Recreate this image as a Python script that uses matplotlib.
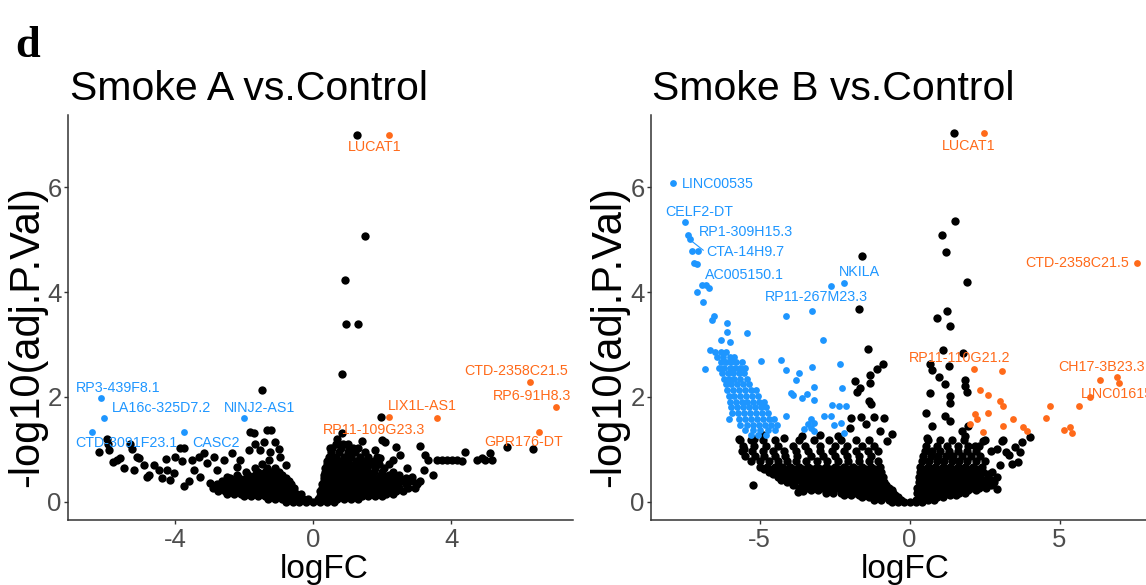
import matplotlib
matplotlib.use("Agg")
import matplotlib.pyplot as plt

plt.rcParams["font.family"] = ["Liberation Sans", "DejaVu Sans"]
plt.rcParams["axes.unicode_minus"] = False

BLUE = "#1E96FF"
ORANGE = "#FF6A1A"
GREY = "#4D4D4D"

# ---------------- Smoke A vs. Control ----------------
# dense core of non-significant genes, read row by row (y level -> logFC values)
a_core_y = [0.0, 0.05, 0.10, 0.15, 0.21, 0.27, 0.33, 0.39, 0.45, 0.51, 0.57, 0.64, 0.71,
            0.78, 0.86, 0.94, 1.02, 1.10]
a_core_x = [
    [-0.8, -0.6, -0.4, -0.2, 0.0, 0.2, 0.4, 0.6],
    [-1.3, -1.1, -0.9, -0.7, -0.5, -0.3, -0.15, 0.15, 0.3, 0.5, 0.7, 0.9, 1.1, 1.3],
    [-2.0, -1.8, -1.6, -1.4, -1.2, -1.0, -0.8, -0.6, -0.4, 0.2, 0.4, 0.6, 0.8, 1.0, 1.2, 1.4,
     1.6, 1.8, 2.0],
    [-2.5, -2.3, -2.1, -1.9, -1.7, -1.5, -1.3, -1.1, -0.9, -0.7, -0.5, -0.35, 0.25, 0.4, 0.55,
     0.7, 0.9, 1.1, 1.3, 1.5, 1.7, 1.9, 2.1, 2.3],
    [-2.75, -2.55, -2.35, -2.15, -1.95, -1.75, -1.55, -1.35, -1.15, -0.95, -0.75, -0.55, 0.2,
     0.35, 0.5, 0.65, 0.8, 1.0, 1.2, 1.4, 1.6, 1.8, 2.0, 2.2, 2.4, 2.6],
    [-2.9, -2.7, -2.5, -2.3, -2.1, -1.9, -1.7, -1.5, -1.3, -1.1, -0.9, -0.7, -0.55, 0.25, 0.4,
     0.55, 0.7, 0.9, 1.1, 1.3, 1.5, 1.7, 1.9, 2.1, 2.3, 2.5, 2.75, 2.95],
    [-2.8, -2.6, -2.4, -2.2, -2.0, -1.8, -1.6, -1.4, -1.2, -1.0, -0.8, -0.65, 0.25, 0.4, 0.6,
     0.8, 1.0, 1.2, 1.4, 1.6, 1.8, 2.0, 2.2, 2.45, 2.7, 3.0],
    [-2.65, -2.45, -2.25, -2.05, -1.85, -1.65, -1.45, -1.25, -1.05, -0.85, -0.7, 0.3, 0.45, 0.65,
     0.85, 1.05, 1.25, 1.45, 1.65, 1.85, 2.05, 2.3, 2.55, 2.85, 3.1],
    [-2.4, -2.15, -1.95, -1.75, -1.55, -1.35, -1.15, -0.95, -0.8, 0.3, 0.5, 0.7, 0.9, 1.1, 1.3,
     1.5, 1.7, 1.9, 2.15, 2.4, 2.7],
    [-2.2, -1.9, -1.7, -1.5, -1.3, -1.1, -0.9, 0.3, 0.5, 0.7, 0.9, 1.1, 1.3, 1.5, 1.7, 1.95,
     2.2, 2.5],
    [-1.95, -1.6, -1.4, -1.2, -1.0, 0.35, 0.55, 0.75, 0.95, 1.15, 1.35, 1.55, 1.75, 2.0, 2.3],
    [-1.7, -1.35, -1.1, 0.35, 0.55, 0.75, 0.95, 1.15, 1.35, 1.55, 1.8, 2.05],
    [-1.5, 0.4, 0.6, 0.8, 1.0, 1.2, 1.4, 1.65, 1.9, 2.2],
    [0.4, 0.6, 0.8, 1.0, 1.25, 1.5, 1.75],
    [0.45, 0.65, 0.9, 1.1, 1.35, 1.6, 1.85],
    [0.5, 0.75, 1.0, 1.2, 1.5],
    [0.55, 0.8, 1.05, 1.3],
    [0.65, 1.0],
]
# scattered non-significant genes
a_black_x = [-5.99, -5.94, -5.91, -5.70, -5.60, -5.50, -5.31, -5.26, -5.12, -5.04, -5.21, -4.83,
             -4.75, -4.61, -4.46, -4.39, -4.26, -4.24, -4.15, -4.05, -3.86, -3.74, -3.81, -3.76,
             -3.52, -3.47, -3.32, -3.28, -3.18, -3.08, -2.99, -2.89, -2.79, -2.60, -2.50, -2.35,
             -2.21, -2.11, -1.84, -1.73, -1.34, -1.22, -1.43, -1.10, -1.87, -1.53, -1.24, -1.29,
             -0.95, -1.50, -6.2, -5.8, -4.9, -4.0, -3.6, -1.7, -1.0, -0.8,
             1.26, 1.51, 0.92, 0.96, 1.30, 0.83, 1.95, 0.83, 1.98, 2.08, 3.09, 3.24, 3.33, 3.48,
             3.58, 3.72, 3.87, 4.01, 4.16, 4.30, 4.40, 4.74, 4.88, 4.98, 5.12, 5.17, 5.61, 6.38,
             0.48, 0.87, 1.16, 1.79, 1.93, 2.32, 2.51, 2.71, 2.85, 3.0, 3.2, 2.4, 0.7, 1.4]
a_black_y = [1.20, 1.11, 0.99, 0.80, 0.83, 0.64, 1.11, 1.00, 0.86, 0.84, 0.61, 0.48,
             0.51, 0.70, 0.61, 0.45, 0.81, 0.61, 0.42, 0.54, 1.03, 1.03, 0.77, 0.29,
             0.80, 0.61, 0.86, 0.48, 0.92, 0.73, 0.35, 0.86, 0.61, 0.80, 0.48, 0.92,
             0.67, 0.80, 1.33, 1.32, 1.37, 1.37, 1.14, 1.14, 0.99, 0.99, 0.95, 0.80,
             0.86, 2.14, 0.95, 0.75, 0.70, 0.85, 0.40, 1.10, 1.00, 0.70,
             7.0, 5.07, 4.23, 3.40, 3.40, 2.44, 1.61, 1.32, 1.18, 1.14, 1.06, 0.89, 0.80, 0.51,
             0.79, 0.79, 0.79, 0.79, 0.79, 0.78, 0.95, 0.80, 0.83, 0.80, 0.92, 0.80, 1.04, 1.00,
             1.02, 1.11, 1.02, 0.99, 0.83, 0.80, 0.89, 0.64, 0.48, 0.35, 0.60, 1.05, 1.20, 1.15]
a_down_genes = ["RP3-439F8.1", "LA16c-325D7.2", "CTD-3091F23.1", "CASC2", "NINJ2-AS1"]
a_down_x = [-6.14, -6.08, -6.41, -3.74, -2.01]
a_down_y = [1.97, 1.60, 1.33, 1.33, 1.60]
a_up_genes = ["LUCAT1", "LIX1L-AS1", "RP11-109G23.3", "CTD-2358C21.5", "RP6-91H8.3", "GPR176-DT"]
a_up_x = [2.20, 3.58, 2.19, 6.29, 7.03, 6.53]
a_up_y = [7.0, 1.60, 1.61, 2.28, 1.80, 1.33]
# label anchor points (data units), same order as the gene lists
a_down_lab = [(-5.66, 2.16), (-4.39, 1.78), (-5.42, 1.12), (-2.83, 1.12), (-1.55, 1.79)]
a_up_lab = [(1.77, 6.77), (3.15, 1.82), (1.77, 1.36), (5.88, 2.50), (6.35, 2.01), (6.09, 1.13)]

# ---------------- Smoke B vs. Control ----------------
b_core_y = [0.0, 0.04, 0.08, 0.12, 0.17, 0.22, 0.27, 0.32, 0.37, 0.42, 0.47, 0.52, 0.57,
            0.62, 0.67, 0.77, 0.87, 0.97, 1.07, 1.17]
b_core_x = [
    [-0.6, -0.4, -0.2, 0.0, 0.2, 0.4],
    [-1.2, -0.95, -0.7, -0.5, -0.3, 0.2, 0.4, 0.6, 0.8],
    [-1.6, -1.35, -1.1, -0.85, -0.6, -0.4, 0.3, 0.5, 0.7, 0.9, 1.1],
    [-2.2, -1.95, -1.7, -1.45, -1.2, -0.95, -0.7, -0.5, 0.35, 0.55, 0.75, 0.95, 1.15, 1.35, 1.55],
    [-2.8, -2.55, -2.3, -2.05, -1.8, -1.55, -1.3, -1.05, -0.8, -0.55,
     0.25, 0.45, 0.65, 0.85, 1.05, 1.25, 1.45, 1.65, 1.85],
    [-3.3, -3.05, -2.8, -2.55, -2.3, -2.05, -1.8, -1.55, -1.3, -1.05, -0.8, -0.6,
     0.35, 0.55, 0.75, 0.95, 1.15, 1.35, 1.55, 1.75, 1.95, 2.2],
    [-3.7, -3.45, -3.2, -2.95, -2.7, -2.45, -2.2, -1.95, -1.7, -1.45, -1.2, -0.95, -0.7,
     0.25, 0.45, 0.65, 0.85, 1.05, 1.25, 1.45, 1.65, 1.85, 2.05, 2.3, 2.55],
    [-3.9, -3.6, -3.3, -3.05, -2.8, -2.55, -2.3, -2.05, -1.8, -1.55, -1.3, -1.05, -0.8,
     0.4, 0.6, 0.8, 1.0, 1.2, 1.4, 1.6, 1.8, 2.0, 2.2, 2.45, 2.7],
    [-4.1, -3.85, -3.6, -3.35, -3.1, -2.85, -2.6, -2.35, -2.1, -1.85, -1.6, -1.35, -1.1, -0.85,
     0.3, 0.5, 0.7, 0.9, 1.1, 1.3, 1.5, 1.7, 1.9, 2.1, 2.3, 2.55, 2.8],
    [-4.3, -4.0, -3.75, -3.5, -3.25, -3.0, -2.75, -2.5, -2.25, -2.0, -1.75, -1.5, -1.25, -1.0,
     0.4, 0.6, 0.8, 1.0, 1.2, 1.4, 1.6, 1.8, 2.0, 2.2, 2.45, 2.7],
    [-4.4, -4.15, -3.9, -3.65, -3.4, -3.15, -2.9, -2.65, -2.4, -2.15, -1.9, -1.65, -1.4, -1.15,
     -0.9, 0.3, 0.5, 0.7, 0.9, 1.1, 1.3, 1.5, 1.7, 1.9, 2.1, 2.35, 2.6, 2.9],
    [-4.55, -4.3, -4.05, -3.8, -3.55, -3.3, -3.05, -2.8, -2.55, -2.3, -2.05, -1.8, -1.55, -1.3,
     -1.05, 0.45, 0.65, 0.85, 1.05, 1.25, 1.45, 1.65, 1.85, 2.05, 2.3, 2.6],
    [-4.7, -4.45, -4.2, -3.95, -3.7, -3.45, -3.2, -2.95, -2.7, -2.45, -2.2, -1.95, -1.7, -1.45,
     -1.2, -0.95, 0.35, 0.55, 0.75, 0.95, 1.15, 1.35, 1.55, 1.75, 1.95, 2.2, 2.45, 2.75],
    [-4.85, -4.6, -4.35, -4.1, -3.85, -3.55, -3.25, -2.95, -2.65, -2.35, -2.05, -1.75, -1.45,
     -1.15, 0.45, 0.7, 0.95, 1.2, 1.45, 1.7, 1.95, 2.25],
    [-5.0, -4.75, -4.5, -4.25, -4.0, -3.7, -3.4, -3.1, -2.8, -2.5, -2.2, -1.9, -1.6, -1.3, -1.0,
     0.35, 0.6, 0.85, 1.1, 1.35, 1.6, 1.85, 2.1, 2.4],
    [-5.3, -5.0, -4.7, -4.4, -4.1, -3.8, -3.45, -3.1, -2.75, -2.4, -2.05, -1.7, -1.35, -1.05,
     0.4, 0.65, 0.9, 1.15, 1.4, 1.65, 1.9, 2.2, 2.5],
    [-5.5, -5.15, -4.85, -4.5, -4.15, -3.75, -3.3, -2.9, -2.5, -2.1, -1.7, -1.3,
     0.45, 0.7, 0.95, 1.2, 1.45, 1.75, 2.05, 2.35],
    [-5.6, -5.25, -4.9, -4.55, -4.2, -3.8, -3.4, -3.0, -2.6, -2.2, -1.8, -1.4, -1.05,
     0.5, 0.75, 1.0, 1.3, 1.6, 1.9, 2.2, 2.7],
    [-5.55, -5.2, -4.8, -4.4, -3.9, -3.5, -3.0, -2.5, -2.1, -1.6, -1.2, 0.55, 0.9, 1.25, 1.6,
     1.95, 2.3],
    [-5.65, -5.3, -4.9, -4.5, -3.7, -3.2, -2.7, -2.3, -1.8, -1.35, 0.6, 1.0, 1.4, 1.8, 2.5, 3.1],
]
b_black_x = [1.49, 1.52, 1.07, 1.22, -1.60, 1.91, -1.68, 1.26, 0.91, 1.35, -1.39, 1.13, 1.79, 0.68,
             0.76, 1.33, 0.98, 1.85, 1.18, 1.85, 1.91, 0.68, 1.35, 1.35, 0.55, 1.18, 1.35, 0.74,
             1.96, 1.74, 0.57, 1.85, 2.46, 2.18, 3.07, 3.74, 4.02, 3.68, 3.41, 3.63, 2.91,
             -0.89, -1.07, -1.32, -1.82, -1.65, -1.76, -1.31, -1.34, -1.28, -1.95, -1.62, -1.45,
             -1.18, -0.84, -0.6, -0.75, -1.0, -2.0, -2.4, -3.0, -3.6, -4.2, -4.9, -5.2, -5.67,
             -5.51, -5.23, -3.73, -3.56, 3.2, 3.0, 2.9, 3.3, 3.5]
b_black_y = [7.03, 5.36, 5.09, 4.77, 4.68, 4.19, 3.68, 3.64, 3.50, 3.36, 2.92, 2.90, 2.84, 2.63,
             2.52, 2.59, 2.37, 2.33, 2.24, 2.21, 2.10, 2.08, 2.02, 1.89, 1.70, 1.64, 1.54, 1.45,
             1.45, 1.35, 1.21, 1.26, 1.16, 1.07, 1.16, 1.13, 1.23, 0.94, 0.72, 0.75, 0.25,
             2.62, 2.54, 2.42, 2.31, 2.17, 2.10, 2.26, 1.92, 1.86, 1.59, 1.61, 1.48,
             1.61, 1.59, 1.30, 1.15, 1.35, 1.40, 1.25, 1.28, 1.25, 1.22, 1.28, 1.20, 1.20,
             1.01, 0.32, 0.18, 0.21, 0.95, 0.70, 1.00, 0.90, 1.05]
# band of down-regulated genes, row by row
b_band_y = [2.85, 2.76, 2.66, 2.55, 2.45, 2.35, 2.24, 2.13, 2.02, 1.91, 1.80, 1.69, 1.58,
            1.47, 1.36, 1.27]
b_band_x = [
    [-6.5, -6.3, -6.12],
    [-6.42, -6.22, -6.0, -5.85],
    [-6.3, -6.13, -5.96, -5.78, -5.6],
    [-6.36, -6.18, -6.0, -5.82, -5.66, -5.5],
    [-6.25, -6.05, -5.88, -5.7, -5.52],
    [-6.2, -6.02, -5.84, -5.64, -5.42],
    [-6.12, -5.95, -5.76, -5.56, -5.36],
    [-6.08, -5.9, -5.7, -5.5, -5.3, -5.12],
    [-6.02, -5.84, -5.64, -5.44, -5.24, -5.04],
    [-6.0, -5.8, -5.6, -5.42, -5.22, -5.02, -4.86],
    [-5.96, -5.76, -5.56, -5.36, -5.16, -4.96, -4.78],
    [-5.92, -5.72, -5.52, -5.32, -5.12, -4.92, -4.72],
    [-6.02, -5.7, -5.5, -5.3, -5.1, -4.9, -4.7, -4.52],
    [-5.64, -5.42, -5.22, -5.02, -4.82, -4.62, -4.42],
    [-5.48, -5.22, -4.98, -4.72, -4.5],
    [-5.3, -5.05, -4.8],
]
b_blue_x = [-7.26, -7.04, -7.17, -7.10, -6.77, -6.68, -7.07, -6.87, -6.53, -6.59, -6.10, -6.10,
            -5.43, -6.28, -6.00, -6.65, -6.82, -4.95, -4.28, -4.12, -3.67, -3.25, -2.32, -3.78,
            -3.17, -2.26, -3.95, -3.89, -3.58, -3.42, -3.17, -2.58, -2.34, -2.12, -4.12, -3.28,
            -2.84, -2.62, -3.39, -3.17, -2.51, -2.28, -3.51, -3.28, -3.17, -2.17, -2.89, -4.12, -3.26]
b_blue_y = [4.78, 4.78, 4.55, 4.54, 4.14, 4.07, 4.01, 3.81, 3.54, 3.46, 3.41, 3.23,
            3.22, 3.09, 3.04, 2.90, 2.54, 2.68, 2.70, 2.52, 2.45, 2.57, 2.62, 2.33,
            2.18, 2.16, 2.08, 2.04, 1.97, 2.05, 1.94, 1.84, 1.83, 1.83, 1.63, 1.57,
            1.64, 1.64, 1.48, 1.50, 1.47, 1.51, 1.38, 1.41, 1.35, 1.32, 3.09, 3.55, 3.63]
b_down_genes = ["LINC00535", "CELF2-DT", "RP1-309H15.3", "CTA-14H9.7", "AC005150.1",
                "NKILA", "RP11-267M23.3"]
b_down_x = [-7.87, -7.48, -7.40, -7.32, -6.93, -2.17, -2.62]
b_down_y = [6.09, 5.33, 5.09, 5.02, 4.14, 4.17, 4.12]
b_up_genes = ["LUCAT1", "CTD-2358C21.5", "RP11-110G21.2", "CH17-3B23.3", "LINC01615"]
b_up_x = [2.49, 7.59, 2.16, 6.35, 6.02]
b_up_y = [7.03, 4.56, 2.54, 2.33, 1.99]
b_orange_x = [3.07, 2.35, 2.61, 3.02, 3.13, 2.18, 2.24, 2.61, 2.02, 2.44, 3.13, 3.46, 3.79,
              3.91, 4.55, 4.68, 5.13, 5.33, 5.41, 5.66, 6.91, 6.99]
b_orange_y = [2.49, 2.14, 2.03, 1.92, 1.83, 1.68, 1.57, 1.70, 1.48, 1.33, 1.45, 1.57, 1.42,
              1.35, 1.59, 1.83, 1.37, 1.42, 1.32, 1.82, 2.37, 2.27]
b_down_lab = [(-6.39, 6.07), (-7.02, 5.53), (-5.46, 5.15), (-5.46, 4.77), (-5.52, 4.33),
              (-1.68, 4.38), (-3.12, 3.90)]
b_up_lab = [(1.98, 6.79), (5.58, 4.55), (1.68, 2.75), (4.96, 2.57), (5.72, 2.05)]
b_up_ha = ["center", "center", "center", "left", "left"]


def rows_to_xy(rows_y, rows_x):
    xs, ys = [], []
    for y, row in zip(rows_y, rows_x):
        xs += row
        ys += [y] * len(row)
    return xs, ys


def style_axes(ax, xticks, xlim):
    ax.set_xlim(*xlim)
    ax.set_ylim(-0.35, 7.38)
    ax.set_xticks(xticks)
    ax.set_yticks([0, 2, 4, 6])
    for side in ["top", "right"]:
        ax.spines[side].set_visible(False)
    for side in ["left", "bottom"]:
        ax.spines[side].set_color("#333333")
        ax.spines[side].set_linewidth(1.1)
    ax.tick_params(colors="#333333", labelcolor=GREY, labelsize=18.5,
                   length=3, width=1.0, pad=1.5)
    ax.tick_params(axis="x", pad=3)


fig = plt.figure(figsize=(11.46, 5.85), dpi=100)
ax_a = fig.add_axes([68 / 1146, 65 / 585, 505 / 1146, 405 / 585])
ax_b = fig.add_axes([651 / 1146, 65 / 585, 495 / 1146, 405 / 585])

BS = 36
CS = 24

# panel A
cx, cy = rows_to_xy(a_core_y, a_core_x)
ax_a.scatter(cx, cy, s=BS, c="black", lw=0, zorder=2)
ax_a.scatter(a_black_x, a_black_y, s=BS, c="black", lw=0, zorder=2)
ax_a.scatter(a_down_x, a_down_y, s=CS, c=BLUE, lw=0, zorder=3)
ax_a.scatter(a_up_x, a_up_y, s=CS, c=ORANGE, lw=0, zorder=3)
for g, (lx, ly) in zip(a_down_genes, a_down_lab):
    ax_a.text(lx, ly, g, color=BLUE, fontsize=10.3, ha="center", va="center", zorder=4)
for g, (lx, ly) in zip(a_up_genes, a_up_lab):
    ax_a.text(lx, ly, g, color=ORANGE, fontsize=10.3, ha="center", va="center", zorder=4)
style_axes(ax_a, [-4, 0, 4], (-7.11, 7.53))

# panel B
cx, cy = rows_to_xy(b_core_y, b_core_x)
ax_b.scatter(cx, cy, s=BS, c="black", lw=0, zorder=2)
ax_b.scatter(b_black_x, b_black_y, s=BS, c="black", lw=0, zorder=2)
bx, by = rows_to_xy(b_band_y, b_band_x)
ax_b.scatter(bx, by, s=CS, c=BLUE, lw=0, zorder=3)
ax_b.scatter(b_blue_x, b_blue_y, s=CS, c=BLUE, lw=0, zorder=3)
ax_b.scatter(b_down_x, b_down_y, s=CS, c=BLUE, lw=0, zorder=3)
ax_b.scatter(b_orange_x, b_orange_y, s=CS, c=ORANGE, lw=0, zorder=3)
ax_b.scatter(b_up_x, b_up_y, s=CS, c=ORANGE, lw=0, zorder=3)
for g, (lx, ly) in zip(b_down_genes, b_down_lab):
    ax_b.text(lx, ly, g, color=BLUE, fontsize=10.3, ha="center", va="center", zorder=4)
for g, (lx, ly), ha in zip(b_up_genes, b_up_lab, b_up_ha):
    ax_b.text(lx, ly, g, color=ORANGE, fontsize=10.3, ha=ha, va="center", zorder=4)
ax_b.plot([-7.28, -6.88], [4.98, 4.80], color=BLUE, lw=0.8, zorder=3)
style_axes(ax_b, [-5, 0, 5], (-8.62, 7.88))

# titles and axis titles
fig.text(15 / 1146, 1 - 57 / 585, "d", family=["Liberation Serif", "DejaVu Serif"],
         fontweight="bold", fontsize=32, va="baseline")
fig.text(70 / 1146, 1 - 100 / 585, "Smoke A vs.Control", fontsize=29.5, va="baseline")
fig.text(652 / 1146, 1 - 100 / 585, "Smoke B vs.Control", fontsize=29.5, va="baseline")
for xc in [27, 609]:
    fig.text(xc / 1146, 1 - 337 / 585, "-log10(adj.P.Val)", fontsize=30,
             rotation=90, ha="center", va="center")
for xc in [324, 905]:
    fig.text(xc / 1146, 1 - 578 / 585, "logFC", fontsize=24, ha="center", va="baseline")

fig.savefig("out.png", dpi=100)
